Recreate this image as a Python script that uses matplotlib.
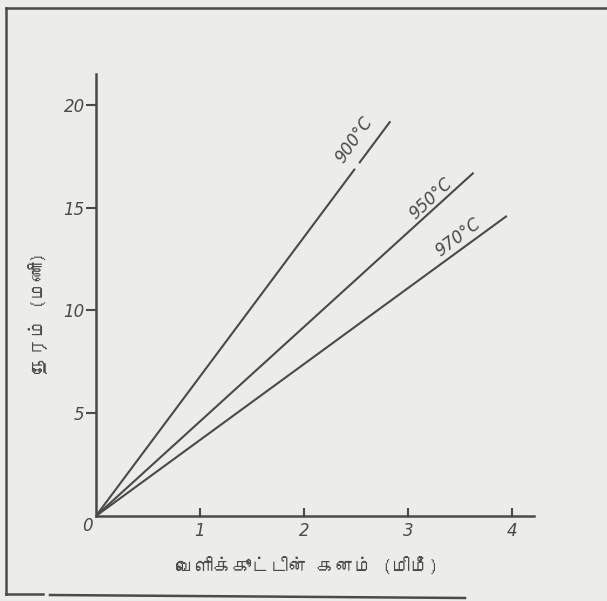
import matplotlib
matplotlib.use("Agg")
import matplotlib.pyplot as plt
from matplotlib import font_manager
from matplotlib.ft2font import FT2Font

# thickness of scale (mm) vs time (h) at three temperatures
temps = ["900°C", "950°C", "970°C"]
x_end = [2.83, 3.63, 3.95]
y_end = [19.2, 16.7, 14.6]
gap_900 = [2.49, 2.53]  # break in the 900 line where the label sits

x_ticks = [1, 2, 3, 4]
y_ticks = [5, 10, 15, 20]
x_label = "வெளிக்கூட்டின் கனம் (மிமீ)"
y_label = "நேரம் (மணி)"


def find_tamil_font():
    for f in font_manager.fontManager.ttflist:
        try:
            if 0x0BA8 in FT2Font(f.fname).get_charmap():
                return f.name
        except Exception:
            pass
    return None


tamil = find_tamil_font()
label_family = [tamil, "DejaVu Sans"] if tamil else ["DejaVu Sans"]

ink = "#4a4a48"
bg = "#ecece9"

fig = plt.figure(figsize=(6.07, 6.01), dpi=100, facecolor=bg)
ax = fig.add_axes([0.158, 0.1414, 0.7216, 0.7354])
ax.set_facecolor(bg)

for i, t in enumerate(temps):
    if i == 0:
        k = y_end[i] / x_end[i]
        ax.plot([0, gap_900[0]], [0, gap_900[0] * k], color=ink, lw=1.5, solid_capstyle="butt")
        ax.plot([gap_900[1], x_end[i]], [gap_900[1] * k, y_end[i]], color=ink, lw=1.5, solid_capstyle="butt")
    else:
        ax.plot([0, x_end[i]], [0, y_end[i]], color=ink, lw=1.5, solid_capstyle="butt")

# labels along the line ends
lab_pos = [(2.48, 18.3), (3.22, 15.45), (3.48, 13.55)]
lab_rot = [55, 43, 37]
for t, (lx, ly), r in zip(temps, lab_pos, lab_rot):
    ax.text(lx, ly, t, rotation=r, ha="center", va="center", fontsize=12,
            fontstyle="italic", color=ink, rotation_mode="anchor")

ax.set_xlim(0, 4.21)
ax.set_ylim(0, 21.5)
ax.spines["top"].set_visible(False)
ax.spines["right"].set_visible(False)
for s in ["left", "bottom"]:
    ax.spines[s].set_color(ink)
    ax.spines[s].set_linewidth(1.8)

ax.set_xticks(x_ticks)
ax.set_yticks(y_ticks)
ax.tick_params(axis="x", direction="in", length=6, width=1.5, color=ink, pad=4,
               labelsize=12, labelcolor=ink)
ax.tick_params(axis="y", direction="out", length=7, width=1.5, color=ink, pad=1,
               labelsize=12, labelcolor=ink)
for lbl in ax.get_xticklabels() + ax.get_yticklabels():
    lbl.set_fontstyle("italic")
ax.text(-0.08, -0.5, "0", ha="center", va="center", fontsize=12, color=ink,
        fontstyle="italic")

fig.text(307 / 607, 1 - 567 / 601, x_label, ha="center", va="center",
         fontsize=13.5, color=ink, family=label_family)
fig.text(38 / 607, 1 - 313 / 601, y_label, ha="center", va="center",
         rotation=90, fontsize=13.5, color=ink, family=label_family)

# scanned page frame
fig.add_artist(plt.Line2D([6 / 607, 1], [1 - 8 / 601, 1 - 8 / 601], color=ink, lw=1.8))
fig.add_artist(plt.Line2D([6 / 607, 6 / 607], [1 - 8 / 601, 1 - 594 / 601], color=ink, lw=1.8))
fig.add_artist(plt.Line2D([6 / 607, 43 / 607], [1 - 594 / 601, 1 - 594 / 601], color=ink, lw=1.8))
fig.add_artist(plt.Line2D([50 / 607, 465 / 607], [1 - 595 / 601, 1 - 598 / 601], color=ink, lw=1.8))

fig.savefig("out.png", dpi=100, facecolor=bg)
